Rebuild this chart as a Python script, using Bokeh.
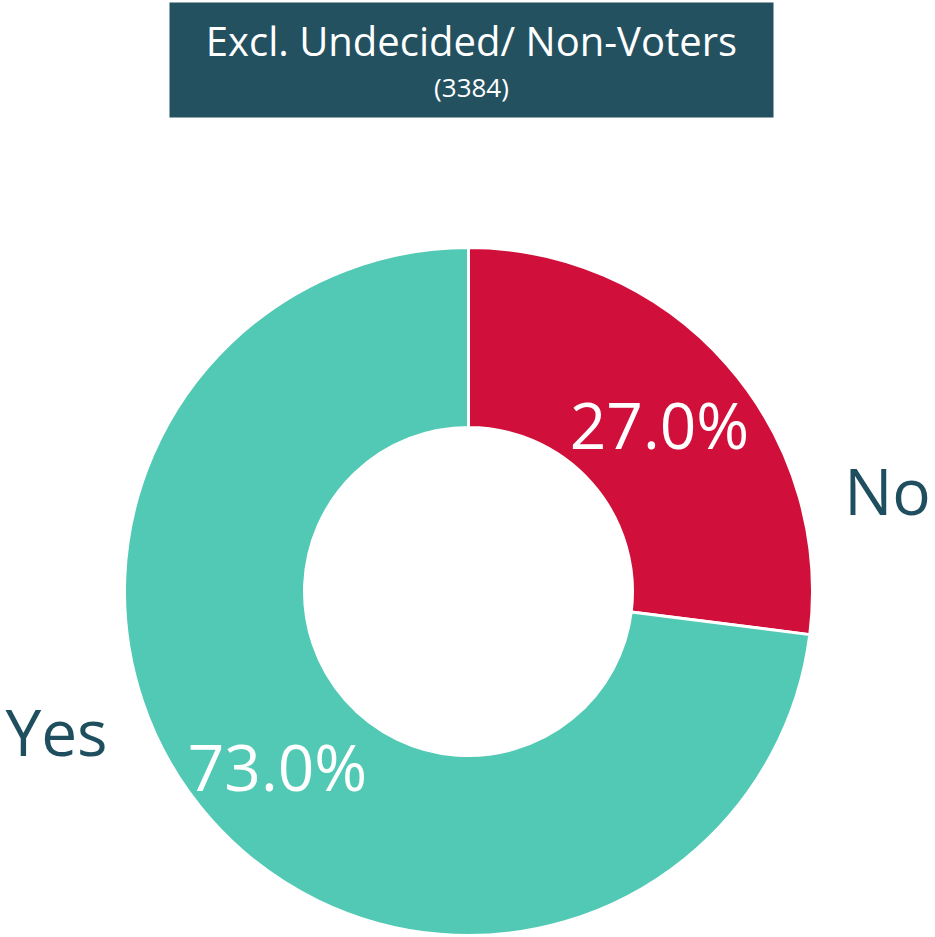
import math
from bokeh.plotting import figure
from bokeh.models import Range1d, ColumnDataSource
from bokeh.core.properties import value
from bokeh.embed import file_html
from bokeh.resources import INLINE

categories = ["No", "Yes"]
shares = [27.0, 73.0]
colors = ["#D0103A", "#52C9B4"]
title_text = "Excl. Undecided/ Non-Voters"
base_text = "(3384)"

W, H = 935, 937
FONT = "Open Sans"

def Y(py):
    # page pixel y -> data y
    return H - py

p = figure(width=W, height=H, output_backend="svg", toolbar_location=None,
           x_range=Range1d(0, W), y_range=Range1d(0, H),
           x_axis_type=None, y_axis_type=None, min_border=0,
           outline_line_color=None)
p.grid.visible = False

# donut
cx, cy = 468, Y(591)
total = sum(shares)
starts, ends = [], []
a = math.pi / 2
for s in shares:
    starts.append(a)
    a -= s / total * 2 * math.pi
    ends.append(a)
src = ColumnDataSource(dict(cat=categories, share=shares, color=colors,
                            start=starts, end=ends))
p.annular_wedge(x=cx, y=cy, inner_radius=164, outer_radius=344,
                start_angle="start", end_angle="end", direction="clock",
                fill_color="color", line_color="white", line_width=3,
                source=src)

# percentage labels
pct_pos = [(659, 424), (277, 766)]
p.text(x=[pp[0] for pp in pct_pos], y=[Y(pp[1]) for pp in pct_pos],
       text=[f"{s:.1f}%" for s in shares], text_color="white",
       text_font=value(FONT), text_font_size="64px",
       text_align="center", text_baseline="alphabetic")

# category labels
cat_pos = [(887, 490), (56, 731)]
p.text(x=[pp[0] for pp in cat_pos], y=[Y(pp[1]) for pp in cat_pos],
       text=categories, text_color="#1F4E5F",
       text_font=value(FONT), text_font_size="64px",
       text_align="center", text_baseline="alphabetic")

# title box
p.quad(left=[169], right=[773], top=[Y(2)], bottom=[Y(117)],
       fill_color="#235160", line_color=None)
p.text(x=[471], y=[Y(40)], text=[title_text], text_color="white",
       text_font=value(FONT), text_font_size="40px",
       text_align="center", text_baseline="alphabetic")
p.text(x=[471], y=[Y(86)], text=[base_text], text_color="white",
       text_font=value(FONT), text_font_size="26px",
       text_align="center", text_baseline="alphabetic")

open("out.html", "w").write(file_html(p, INLINE))
